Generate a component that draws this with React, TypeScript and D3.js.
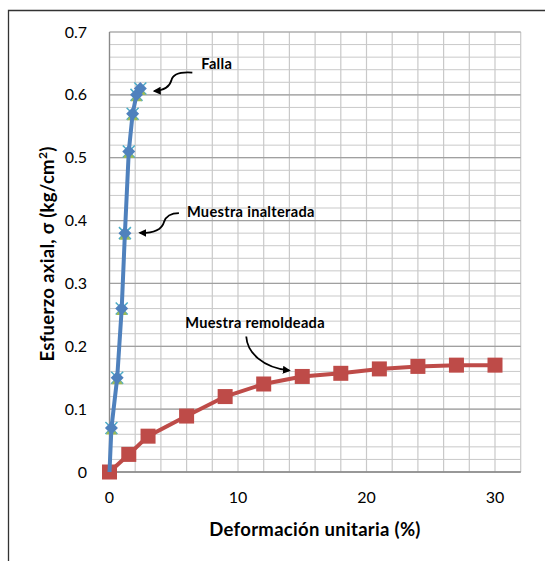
import React from "react";
import * as d3 from "d3";

const inaltX = [0, 0.15, 0.6, 0.95, 1.2, 1.5, 1.8, 2.1, 2.4];
const inaltY = [0, 0.07, 0.15, 0.26, 0.38, 0.51, 0.57, 0.6, 0.61];
const remolX = [0, 1.5, 3, 6, 9, 12, 15, 18, 21, 24, 27, 30];
const remolY = [0, 0.028, 0.057, 0.089, 0.12, 0.14, 0.152, 0.157, 0.164, 0.168, 0.17, 0.17];
const xTicks = [0, 10, 20, 30];
const yTicks = [0, 0.1, 0.2, 0.3, 0.4, 0.5, 0.6, 0.7];

const W = 545;
const H = 561;
const FONT = "Lato, 'Open Sans', sans-serif";

export default function App() {
  const x = d3.scaleLinear().domain([0, 32]).range([109.5, 520.7]);
  const y = d3.scaleLinear().domain([0, 0.7]).range([472, 32]);

  const inalt = inaltX.map((v, i) => [v, inaltY[i]] as [number, number]);
  const remol = remolX.map((v, i) => [v, remolY[i]] as [number, number]);
  const line = d3
    .line<[number, number]>()
    .x((d) => x(d[0]))
    .y((d) => y(d[1]));

  const vGrid = d3.range(0, 32.001, 2);
  const hMinor = d3.range(0, 0.7001, 0.02);
  const hMajor = d3.range(0, 0.7001, 0.1);

  const diamond = "M0,-6.5L6.5,0L0,6.5L-6.5,0Z";
  const tri = "M0,-5L5.5,5L-5.5,5Z";
  const cross = "M-6,-6L6,6M6,-6L-6,6";

  const falla = [x(2.4), y(0.61)];
  const inA = [x(1.2), y(0.38)];
  const reA = [x(15), y(0.152)];

  const annStyle = { fontSize: 14.6, fontWeight: 700, letterSpacing: 0.3 } as const;

  return (
    <svg
      width={W}
      height={H}
      style={{ position: "absolute", left: 0, top: 0, background: "#fff" }}
      fontFamily={FONT}
    >
      <defs>
        <marker
          id="ah"
          viewBox="0 0 10 10"
          refX="8"
          refY="5"
          markerWidth="8"
          markerHeight="8"
          markerUnits="userSpaceOnUse"
          orient="auto"
        >
          <path d="M0,0 L10,5 L0,10 z" fill="#000" />
        </marker>
      </defs>
      <path d={`M8.5,${H} L8.5,10.5 L${W},10.5`} fill="none" stroke="#333" strokeWidth={1.3} />

      {hMinor.map((v, i) => (
        <line key={"hm" + i} x1={x(0)} x2={x(32)} y1={y(v)} y2={y(v)} stroke="#c9c9c9" strokeWidth={1} />
      ))}
      {vGrid.map((v, i) => (
        <line key={"v" + i} x1={x(v)} x2={x(v)} y1={y(0)} y2={y(0.7)} stroke="#c9c9c9" strokeWidth={1.2} />
      ))}
      {hMajor.map((v, i) => (
        <line key={"hM" + i} x1={x(0)} x2={x(32)} y1={y(v)} y2={y(v)} stroke="#a0a0a0" strokeWidth={1.2} />
      ))}
      <line x1={x(0)} x2={x(32)} y1={y(0)} y2={y(0)} stroke="#8a8a8a" strokeWidth={1.3} />
      <line x1={x(0)} x2={x(0)} y1={y(0)} y2={y(0.7)} stroke="#8a8a8a" strokeWidth={1.3} />

      {yTicks.map((v) => (
        <text key={"yt" + v} x={87} y={y(v)} dy="0.35em" textAnchor="end" fontSize={16} fill="#000">
          {v === 0 ? "0" : v.toFixed(1)}
        </text>
      ))}
      {xTicks.map((v) => (
        <text key={"xt" + v} x={x(v)} y={497} dy="0.35em" textAnchor="middle" fontSize={16} fill="#000">
          {v}
        </text>
      ))}

      <text x={315} y={536} textAnchor="middle" fontSize={18.5} fontWeight="bold" letterSpacing={0.3} fill="#000">
        Deformación unitaria (%)
      </text>
      <text
        transform={`translate(54,254) rotate(-90)`}
        textAnchor="middle"
        fontSize={18.5}
        fontWeight="bold"
        letterSpacing={0.3}
        fill="#000"
      >
        Esfuerzo axial, σ (kg/cm<tspan dy="-7" fontSize={12}>2</tspan><tspan dy="7">)</tspan>
      </text>

      <path d={line(remol)!} fill="none" stroke="#be4b48" strokeWidth={4} />
      {remol.map((d, i) => (
        <rect key={"r" + i} x={x(d[0]) - 7.5} y={y(d[1]) - 7.5} width={15} height={15} fill="#be4b48" />
      ))}

      {inalt.slice(1).map((d, i) => (
        <path key={"c" + i} d={cross} transform={`translate(${x(d[0])},${y(d[1])})`} stroke="#4bacc6" strokeWidth={1.5} fill="none" />
      ))}
      {inalt.slice(1).map((d, i) => (
        <path key={"t" + i} d={tri} transform={`translate(${x(d[0])},${y(d[1]) + 1.5})`} fill="#9bbb59" />
      ))}
      <path d={line(inalt)!} fill="none" stroke="#4f81bd" strokeWidth={4} />
      {inalt.slice(1).map((d, i) => (
        <path key={"d" + i} d={diamond} transform={`translate(${x(d[0])},${y(d[1])})`} fill="#4f81bd" />
      ))}

      <text x={falla[0] + 61} y={falla[1] - 20} {...annStyle} fill="#000">
        Falla
      </text>
      <path
        d={`M${falla[0] + 52},${falla[1] - 16} C${falla[0] + 38},${falla[1] - 17} ${falla[0] + 32},${falla[1] - 13} ${falla[0] + 31},${falla[1] - 8} C${falla[0] + 29},${falla[1] - 1} ${falla[0] + 23},${falla[1] + 2} ${falla[0] + 14},${falla[1] + 2.4}`}
        fill="none"
        stroke="#000"
        strokeWidth={1.8}
        markerEnd="url(#ah)"
      />
      <text x={inA[0] + 62} y={inA[1] - 16} {...annStyle} fill="#000">
        Muestra inalterada
      </text>
      <path
        d={`M${inA[0] + 54},${inA[1] - 20} C${inA[0] + 45},${inA[1] - 20} ${inA[0] + 41},${inA[1] - 17} ${inA[0] + 39},${inA[1] - 11} C${inA[0] + 37},${inA[1] - 4} ${inA[0] + 30},${inA[1]} ${inA[0] + 15},${inA[1] - 0.3}`}
        fill="none"
        stroke="#000"
        strokeWidth={1.8}
        markerEnd="url(#ah)"
      />
      <text x={reA[0] - 117} y={reA[1] - 48} {...annStyle} fill="#000">
        Muestra remoldeada
      </text>
      <path
        d={`M${reA[0] - 56},${reA[1] - 40} C${reA[0] - 55},${reA[1] - 24} ${reA[0] - 40},${reA[1] - 9} ${reA[0] - 13},${reA[1] - 6}`}
        fill="none"
        stroke="#000"
        strokeWidth={1.8}
        markerEnd="url(#ah)"
      />
    </svg>
  );
}
